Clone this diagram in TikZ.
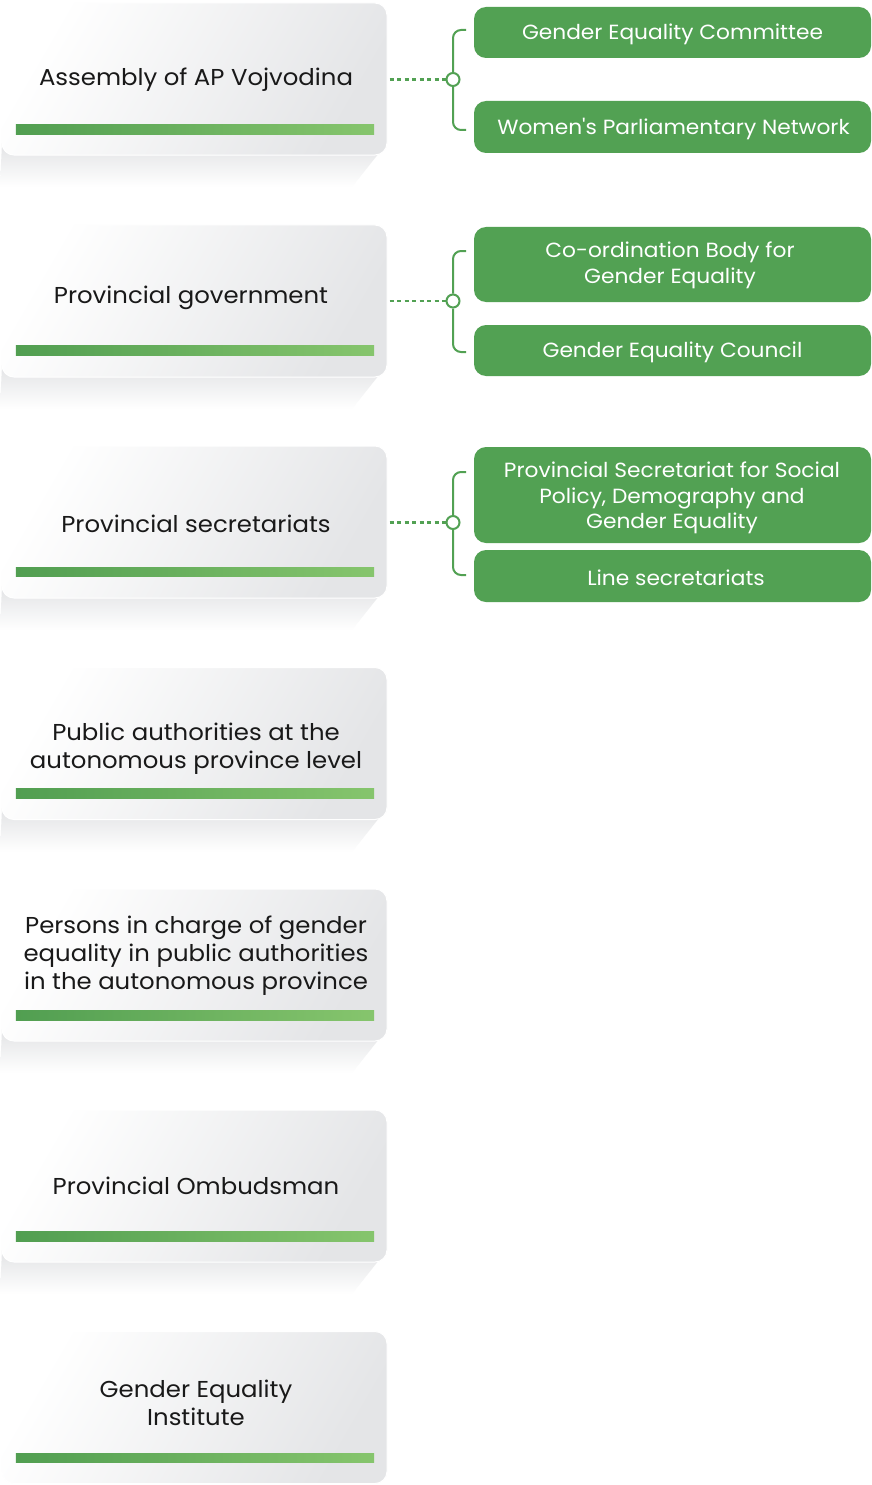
\documentclass[tikz,border=0pt]{standalone}
\usepackage{fontspec}
\setmainfont{Poppins}[FakeStretch=1.06, Ligatures=TeXOff]
\usetikzlibrary{positioning}
\definecolor{boxgray}{HTML}{E4E5E7}
\definecolor{gdark}{HTML}{519E51}
\definecolor{glight}{HTML}{86C56D}
\definecolor{gfill}{HTML}{52A153}
\definecolor{shad}{HTML}{E2E3E5}
\tikzset{
  lbox/.style={rounded corners=12bp, minimum width=385bp, minimum height=152bp, inner sep=0pt,
    draw=white, line width=1bp, left color=white, right color=boxgray, shading angle=60},
  ltext/.style={align=center, font=\fontsize{23bp}{28bp}\selectfont, text=black!90},
  gbar/.style={minimum width=358bp, minimum height=9.5bp, inner sep=0pt, left color=gdark, right color=glight},
  rbox/.style={rounded corners=12bp, minimum width=397bp, inner sep=0pt, fill=gfill},
  rtxt/.style={align=center, text=white, font=\fontsize{20.5bp}{25.5bp}\selectfont, inner sep=0pt},
  brk/.style={draw=gfill, line width=2bp},
  dotl/.style={draw=gfill, line width=2.2bp, dash pattern=on 4bp off 3.5bp},
  knot/.style={circle, draw=gfill, fill=white, line width=2bp, minimum size=13bp, inner sep=0pt},
}
\newcommand{\shadowbox}[1]{%
  \shade[top color=shad, bottom color=white] (2,#1-12) -- (387,#1-12) -- (352,#1+32) -- (0,#1+32) -- cycle;}
\begin{document}
\begin{tikzpicture}[x=1bp,y=-1bp]
\useasboundingbox[fill=white] (0,0) rectangle (871,1485);
% shadows
\foreach \b in {155,377,598,820,1041,1262}{\shadowbox{\b}}
% left boxes
\node[lbox] (b1) at (194.5,79) {};
\node[lbox] (b2) at (194.5,301) {};
\node[lbox] (b3) at (194.5,522) {};
\node[lbox] (b4) at (194.5,743.5) {};
\node[lbox] (b5) at (194.5,965) {};
\node[lbox] (b6) at (194.5,1186) {};
\node[lbox] (b7) at (194.5,1407.5) {};
% bars
\node[gbar] (g1) at (195,129.5) {};
\node[gbar] (g2) at (195,350.5) {};
\node[gbar] (g3) at (195,572) {};
\node[gbar] (g4) at (195,793.5) {};
\node[gbar] (g5) at (195,1015.5) {};
\node[gbar] (g6) at (195,1236.5) {};
\node[gbar] (g7) at (195,1458) {};
% texts
\node[ltext] (t1) at (196,80) {Assembly of AP Vojvodina};
\node[ltext] (t2) at (191,298) {Provincial government};
\node[ltext] (t3) at (196,524) {Provincial secretariats};
\node[ltext] (t4) at (196,749) {Public authorities at the\\autonomous province level};
\node[ltext] (t5) at (196,956) {Persons in charge of gender\\equality in public authorities\\in the autonomous province};
\node[ltext] (t6) at (196,1186) {Provincial Ombudsman};
\node[ltext] (t7) at (196,1403) {Gender Equality\\Institute};
% right boxes
\node[rbox, minimum height=51bp] (r1) at (672.5,32.5) {};
\node[rbox, minimum height=52bp] (r2) at (672.5,127) {};
\node[rbox, minimum height=75bp] (r3) at (672.5,264.5) {};
\node[rbox, minimum height=51bp] (r4) at (672.5,350.5) {};
\node[rbox, minimum height=96bp] (r5) at (672.5,495) {};
\node[rbox, minimum height=52bp] (r6) at (672.5,576) {};
\node[rtxt] (s1) at (672.5,34) {Gender Equality Committee};
\node[rtxt] (s2) at (673.5,128.5) {Women's Parliamentary Network};
\node[rtxt] (s3) at (670,265.5) {Co-ordination Body for\\Gender Equality};
\node[rtxt] (s4) at (672.5,352) {Gender Equality Council};
\node[rtxt] (s5) at (672,498) {Provincial Secretariat for Social\\Policy, Demography and\\Gender Equality};
\node[rtxt] (s6) at (676,577.5) {Line secretariats};
% knots
\node[knot] (k1) at (453,79.5) {};
\node[knot] (k2) at (453,301) {};
\node[knot] (k3) at (453,522.5) {};
% bracket ends
\coordinate (e1) at (466,30);
\coordinate (e2) at (466,130);
\coordinate (e3) at (466,251);
\coordinate (e4) at (466,352);
\coordinate (e5) at (466,472);
\coordinate (e6) at (466,575);
% brackets
\draw[brk] (e1) -- (461,30) to[out=180,in=90] (453,38) -- (k1.north);
\draw[brk] (k1.south) -- (453,122) to[out=-90,in=180] (461,130) -- (e2);
\draw[brk] (e3) -- (461,251) to[out=180,in=90] (453,259) -- (k2.north);
\draw[brk] (k2.south) -- (453,344) to[out=-90,in=180] (461,352) -- (e4);
\draw[brk] (e5) -- (461,472) to[out=180,in=90] (453,480) -- (k3.north);
\draw[brk] (k3.south) -- (453,567) to[out=-90,in=180] (461,575) -- (e6);
% dotted connectors
\draw[dotl] (b1.east |- k1) ++(2,0) -- (k1.west);
\draw[dotl] (b2.east |- k2) ++(2,0) -- (k2.west);
\draw[dotl] (b3.east |- k3) ++(2,0) -- (k3.west);
\end{tikzpicture}
\end{document}
